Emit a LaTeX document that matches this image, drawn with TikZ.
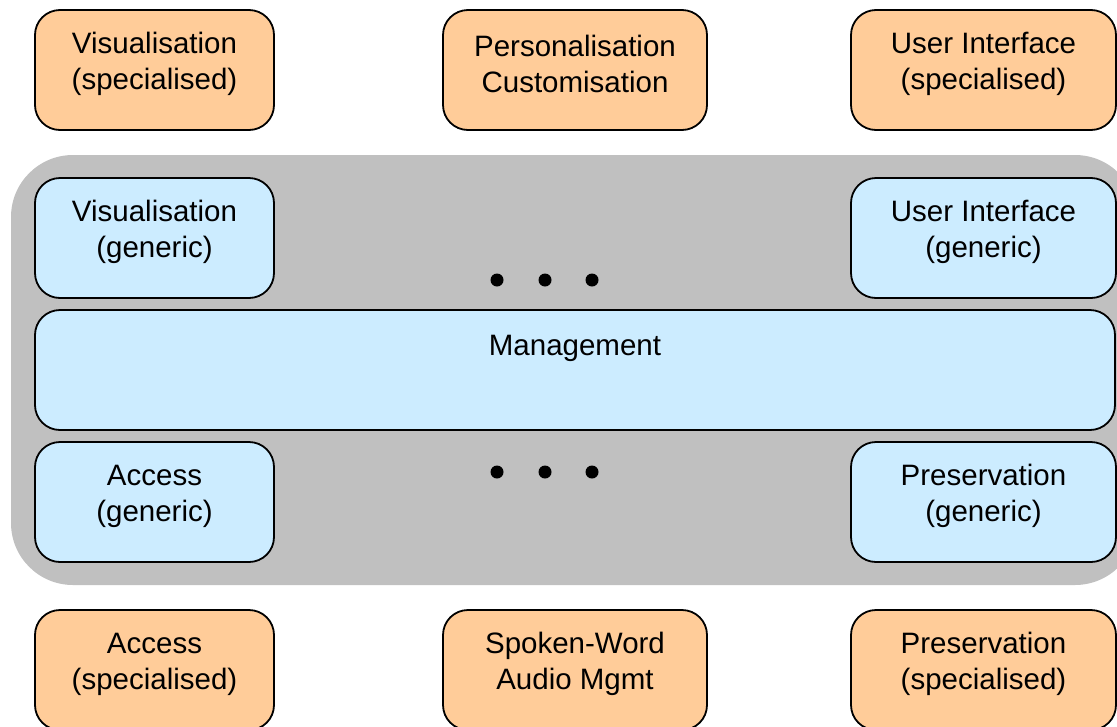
\documentclass[tikz,border=0pt]{standalone}
\usepackage{fontspec}
\setmainfont{Liberation Sans}
\definecolor{orangefill}{HTML}{FFCC99}
\definecolor{bluefill}{HTML}{CCECFF}
\definecolor{grayfill}{HTML}{C0C0C0}
\begin{document}
\begin{tikzpicture}[x=1pt,y=-1pt,
  box/.style={draw=black, line width=1.8pt, rounded corners=25pt, inner sep=0pt, minimum height=120pt},
  obox/.style={box, fill=orangefill},
  bbox/.style={box, fill=bluefill},
  txt/.style={font=\fontsize{29.5}{36}\selectfont, align=center, inner sep=0pt},
  dot/.style={circle, fill=black, inner sep=0pt, minimum size=13pt}
]
\useasboundingbox (0,0) rectangle (1117,726);
% container
\fill[grayfill, rounded corners=62pt] (11,155) rectangle (1137,585);
% top specialised
\node[obox, minimum width=239pt] (vs) at (154.5,70) {};
\node[obox, minimum width=264pt] (pc) at (575,70) {};
\node[obox, minimum width=265pt] (us) at (983.5,70) {};
% generic
\node[bbox, minimum width=239pt] (vg) at (154.5,238) {};
\node[bbox, minimum width=265pt] (ug) at (983.5,238) {};
\node[bbox, minimum width=1080pt] (mg) at (575,370) {};
\node[bbox, minimum width=239pt] (ag) at (154.5,502) {};
\node[bbox, minimum width=265pt] (pg) at (983.5,502) {};
% bottom specialised
\node[obox, minimum width=239pt] (as) at (154.5,670) {};
\node[obox, minimum width=264pt] (sw) at (575,670) {};
\node[obox, minimum width=265pt] (ps) at (983.5,670) {};
% texts
\node[txt] at ([yshift=6pt]vs.center) {Visualisation\\(specialised)};
\node[txt] at ([yshift=6pt]pc.center) {Personalisation\\Customisation};
\node[txt] at ([yshift=6pt]us.center) {User Interface\\(specialised)};
\node[txt] at ([yshift=6pt]vg.center) {Visualisation\\(generic)};
\node[txt] at ([yshift=6pt]ug.center) {User Interface\\(generic)};
\node[txt] at ([yshift=22pt]mg.center) {Management};
\node[txt] at ([yshift=6pt]ag.center) {Access\\(generic)};
\node[txt] at ([yshift=6pt]pg.center) {Preservation\\(generic)};
\node[txt] at ([yshift=6pt]as.center) {Access\\(specialised)};
\node[txt] at ([yshift=6pt]sw.center) {Spoken-Word\\Audio Mgmt};
\node[txt] at ([yshift=6pt]ps.center) {Preservation\\(specialised)};
% dots
\node[dot] (d1) at (497,280) {};
\node[dot] (d2) at (545,280) {};
\node[dot] (d3) at (592,280) {};
\node[dot] (d4) at (497,472) {};
\node[dot] (d5) at (545,472) {};
\node[dot] (d6) at (592,472) {};
\end{tikzpicture}
\end{document}
